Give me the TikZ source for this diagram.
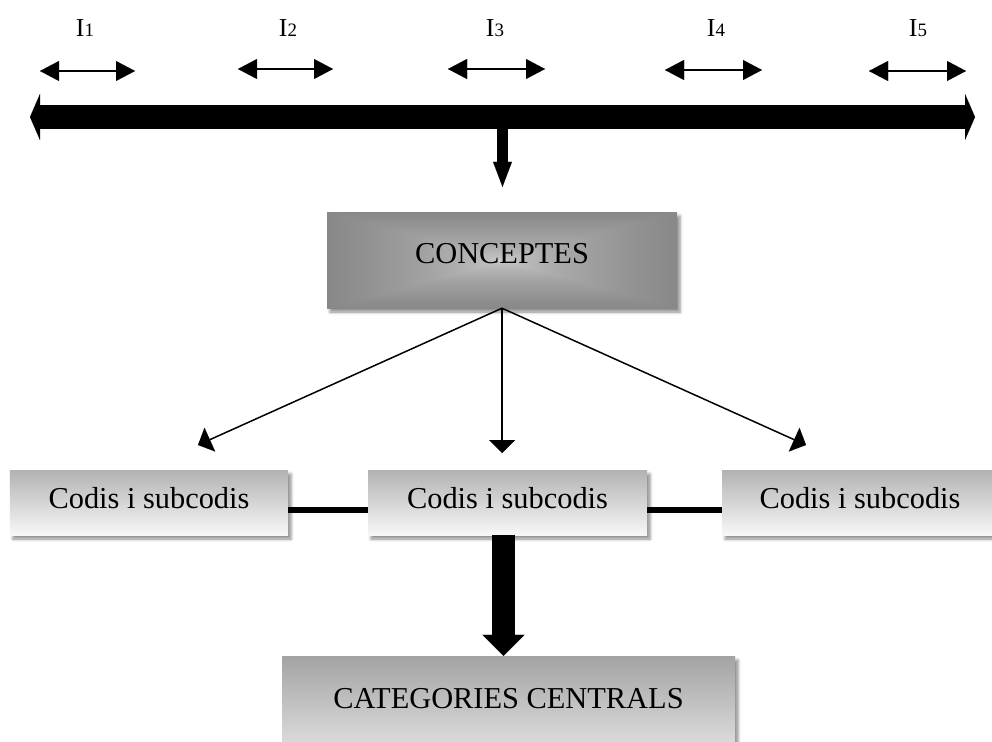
\documentclass[tikz,border=0pt]{standalone}
\usepackage{fontspec}
\setmainfont{Liberation Serif}
\usetikzlibrary{arrows.meta,shadows.blur}
\pgfdeclarefunctionalshading{bevelgray}{\pgfpoint{-50bp}{-50bp}}{\pgfpoint{50bp}{50bp}}{}{abs 50 div exch abs 50 div 2 copy lt {exch} if pop 0.55 exp -0.42 mul 0.82 add dup dup}
\tikzset{
  boxshadow/.style={blur shadow={shadow xshift=3bp,shadow yshift=-4bp,shadow blur radius=3bp,shadow opacity=45}},
  boxfont/.style={font=\fontsize{30.5}{30.5}\selectfont},
  conceptbox/.style={rectangle, shading=bevelgray, minimum width=350bp, minimum height=96bp, inner sep=0pt, boxfont, text height=21bp, text depth=15bp, boxshadow},
  codebox/.style={rectangle, top color=black!30, bottom color=black!3, minimum height=65bp, inner sep=0pt, boxfont, text height=20bp, text depth=9bp, boxshadow},
  catbox/.style={rectangle, top color=black!36, bottom color=black!10, minimum width=453bp, minimum height=104bp, inner sep=0pt, boxfont, text height=20bp, text depth=20bp, boxshadow},
  ilabel/.style={anchor=base, inner sep=0pt, font=\fontsize{26}{26}\selectfont},
  smallarrow/.style={line width=1.5bp, {Triangle[length=19bp,width=20bp,line width=0.01pt]}-{Triangle[length=19bp,width=20bp,line width=0.01pt]}},
  bigbar/.style={line width=24bp, {Triangle[length=10bp,width=46bp,line width=0.01pt]}-{Triangle[length=10bp,width=46bp,line width=0.01pt]}},
  downarrow/.style={line width=11bp, -{Triangle[length=25bp,width=19bp,line width=0.01pt]}},
  thinarrow/.style={line width=1.5bp, -{Triangle[length=13bp,width=26bp,line width=0.01pt]}},
  linkline/.style={line width=6bp},
  fatarrow/.style={line width=23bp, -{Triangle[length=21bp,width=42bp,line width=0.01pt]}}
}
\newcommand{\Ilab}[1]{I{\fontsize{19}{19}\selectfont #1}}
\begin{document}
\begin{tikzpicture}[x=1bp,y=1bp]
\useasboundingbox (0,0) rectangle (992,-742);
% labels
\node[ilabel] (i1) at (85,-37) {\Ilab{1}};
\node[ilabel] (i2) at (288,-37) {\Ilab{2}};
\node[ilabel] (i3) at (495,-37) {\Ilab{3}};
\node[ilabel] (i4) at (716,-37) {\Ilab{4}};
\node[ilabel] (i5) at (918,-37) {\Ilab{5}};
% small arrows
\coordinate (a1l) at (40,-71);  \coordinate (a1r) at (135,-71);
\coordinate (a2l) at (238,-69); \coordinate (a2r) at (333,-69);
\coordinate (a3l) at (448,-69); \coordinate (a3r) at (545,-69);
\coordinate (a4l) at (665,-70); \coordinate (a4r) at (762,-70);
\coordinate (a5l) at (869,-71); \coordinate (a5r) at (966,-71);
\draw[smallarrow] (a1l) -- (a1r);
\draw[smallarrow] (a2l) -- (a2r);
\draw[smallarrow] (a3l) -- (a3r);
\draw[smallarrow] (a4l) -- (a4r);
\draw[smallarrow] (a5l) -- (a5r);
% big bar
\coordinate (barl) at (30,-117);
\coordinate (barr) at (975,-117);
\draw[bigbar] (barl) -- (barr);
% boxes
\node[conceptbox] (concept) at (502,-260) {CONCEPTES};
\node[codebox, minimum width=278bp] (c1) at (149,-502.5) {Codis i subcodis};
\node[codebox, minimum width=279bp] (c2) at (507.5,-502.5) {Codis i subcodis};
\node[codebox, minimum width=276bp] (c3) at (860,-502.5) {Codis i subcodis};
\node[catbox] (cat) at (508.5,-708) {CATEGORIES CENTRALS};
% down arrow from bar
\coordinate (barmid) at (502.5,-125);
\coordinate (topx) at (502.5,0);
\draw[downarrow] (barmid) -- ([yshift=25bp]concept.north -| topx);
% thin arrows
\coordinate (t1) at (198,-445);
\coordinate (t2) at (502,-453);
\coordinate (t3) at (806,-445);
\draw[thinarrow] (concept.south) -- (t1);
\draw[thinarrow] (concept.south) -- (t2);
\draw[thinarrow] (concept.south) -- (t3);
% links
\draw[linkline] ([yshift=-7.5bp]c1.east) -- ([yshift=-7.5bp]c2.west);
\draw[linkline] ([yshift=-7.5bp]c2.east) -- ([yshift=-7.5bp]c3.west);
% fat arrow
\coordinate (botx) at (503.5,0);
\draw[fatarrow] (c2.south -| botx) -- (cat.north -| botx);
\end{tikzpicture}
\end{document}
